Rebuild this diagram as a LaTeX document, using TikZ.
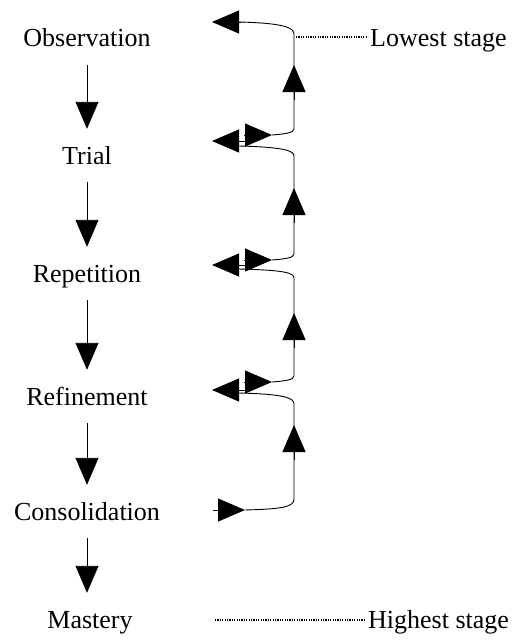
\documentclass[tikz,border=0pt]{standalone}
\usepackage{fontspec}
\setmainfont{Liberation Serif}
\newfontfamily\lblfont{Liberation Serif}
\usetikzlibrary{arrows.meta}
\begin{document}
\begin{tikzpicture}[x=1pt,y=-1pt,
  lbl/.style={font=\lblfont\fontsize{26}{30}\selectfont, inner sep=0pt, text height=17pt, text depth=5pt},
  head/.style={-{Triangle[length=27pt,width=23pt]}},
  flow/.style={line width=0.9pt, head, shorten <=13pt, shorten >=18pt},
  tipar/.style={line width=0.9pt, head},
  loopline/.style={line width=0.9pt},
  dotline/.style={line width=1.3pt, dash pattern=on 1.2pt off 1.2pt}]
\useasboundingbox (0,0) rectangle (512,642);

% left column
\node[lbl, anchor=base] (obs)  at (87,47)  {Observation};
\node[lbl, anchor=base] (tri)  at (87,164) {Trial};
\node[lbl, anchor=base] (rep)  at (87,282) {Repetition};
\node[lbl, anchor=base] (ref)  at (87,405) {Refinement};
\node[lbl, anchor=base] (con)  at (87,520) {Consolidation};
\node[lbl, anchor=base] (mas)  at (90,628) {Mastery};
\draw[flow] (obs.south) -- (tri.north);
\draw[flow] (tri.south) -- (rep.north);
\draw[flow] (rep.south) -- (ref.north);
\draw[flow] (ref.south) -- (con.north);
\draw[flow] (con.south) -- (con.south |- mas.north);

% right labels
\node[lbl, anchor=base west] (low)  at (370,47)  {Lowest stage};
\node[lbl, anchor=base west] (high) at (368,628) {Highest stage};
\coordinate (lowstart) at (296,37);
\coordinate (highstart) at (215,620);
\draw[dotline] (lowstart) -- ([yshift=10pt,xshift=-2pt]low.base west);
\draw[dotline] (highstart) -- ([yshift=8pt,xshift=-3pt]high.base west);

% feedback arrows (left-pointing)
\coordinate (fb0) at (212,22);
\coordinate (fb1) at (212,141);
\coordinate (fb2) at (212,265);
\coordinate (fb3) at (212,390);
% entry arrows (right-pointing)
\coordinate (in1) at (272,135);
\coordinate (in2) at (272,260);
\coordinate (in3) at (272,382);
\coordinate (in4) at (245,510);

% path from Trial up to top
\draw[loopline] (in1) .. controls (284,134) and (294,133) .. (294,129)
  -- (294,34) .. controls (294,28) and (285,23) .. (238,22);
\draw[tipar] (241,22) -- (fb0);
\draw[tipar] (294,100) -- (294,65);
\draw[tipar] (244,135) -- (in1);

% path from Repetition up to Trial
\draw[loopline] (in2) .. controls (284,259) and (294,258) .. (294,254)
  -- (294,156) .. controls (294,151) and (285,147) .. (238,146);
\draw[tipar] (245,141) -- (fb1);
\draw[tipar] (294,223) -- (294,188);
\draw[tipar] (244,260) -- (in2);

% path from Refinement up to Repetition
\draw[loopline] (in3) .. controls (284,381) and (294,380) .. (294,376)
  -- (294,278) .. controls (294,273) and (285,270) .. (238,269);
\draw[tipar] (245,265) -- (fb2);
\draw[tipar] (294,348) -- (294,313);
\draw[tipar] (244,382) -- (in3);

% path from Consolidation up to Refinement
\draw[loopline] (in4) .. controls (282,509) and (294,507) .. (294,499)
  -- (294,404) .. controls (294,398) and (285,394) .. (238,393);
\draw[tipar] (245,390) -- (fb3);
\draw[tipar] (294,460) -- (294,425);
\draw[tipar] (213,510) -- (in4);
\end{tikzpicture}
\end{document}
